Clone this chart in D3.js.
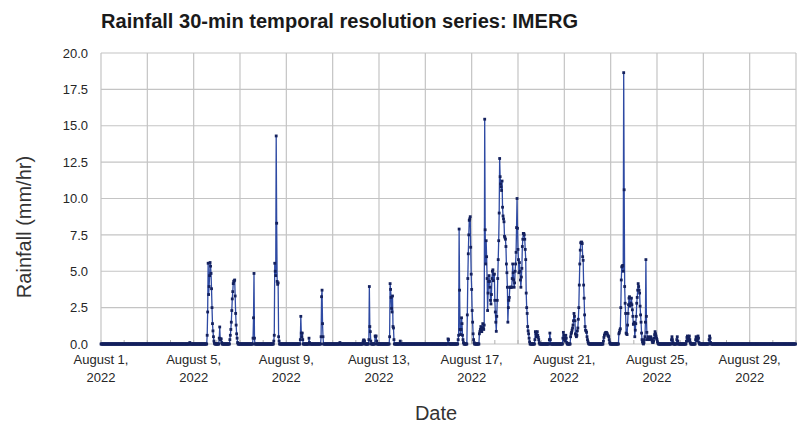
<!DOCTYPE html>
<html>
<head>
<meta charset="utf-8">
<script src="https://cdn.jsdelivr.net/npm/d3@7"></script>
<style>
  html, body { margin: 0; padding: 0; background: #fff; }
  svg { display: block; }
</style>
</head>
<body>
<svg id="chart" width="808" height="423"></svg>
<script>
// ---------------- DATA ----------------
const chartTitle = "Rainfall 30-min temporal resolution series: IMERG";
const yTitle = "Rainfall (mm/hr)";
const xTitle = "Date";
const seriesStart = "2022-08-01T00:00:00Z";
const seriesEnd = "2022-08-31T00:00:00Z";
const stepMinutes = 30;
const yTicks = [0, 2.5, 5, 7.5, 10, 12.5, 15, 17.5, 20];
const xLabelDays = [1, 5, 9, 13, 17, 21, 25, 29];

// Rain bursts (mm/hr per 30-min step); every other step is 0
const eventStarts = [
  "2022-08-04T20:00:00Z", "2022-08-05T14:00:00Z", "2022-08-06T02:30:00Z", "2022-08-06T13:30:00Z",
  "2022-08-07T13:30:00Z", "2022-08-08T11:00:00Z", "2022-08-09T14:30:00Z", "2022-08-09T23:30:00Z",
  "2022-08-10T12:00:00Z", "2022-08-11T07:30:00Z", "2022-08-12T07:30:00Z", "2022-08-12T13:30:00Z",
  "2022-08-12T20:00:00Z", "2022-08-13T11:00:00Z", "2022-08-13T22:00:00Z", "2022-08-15T23:30:00Z",
  "2022-08-16T10:00:00Z", "2022-08-16T19:30:00Z", "2022-08-17T08:00:00Z", "2022-08-19T17:30:00Z",
  "2022-08-20T08:30:00Z", "2022-08-20T22:30:00Z", "2022-08-21T06:30:00Z", "2022-08-22T16:30:00Z",
  "2022-08-23T08:30:00Z", "2022-08-25T15:00:00Z", "2022-08-25T20:30:00Z", "2022-08-26T06:30:00Z",
  "2022-08-26T16:00:00Z", "2022-08-27T06:00:00Z"
];
const eventValues = [
  [0.1],
  [0.6, 2.2, 5.55, 3.4, 3.95, 4.7, 5.6, 5.35, 4.85, 3.8, 2.5, 1.4, 0.9, 0.5, 0.2, 0.05],
  [0.4, 1.17, 0.3, 0.35, 0.35, 0.1],
  [0.3, 0.6, 1.0, 1.5, 2.3, 3.1, 3.6, 4.15, 4.3, 4.35, 4.4, 3.3, 2.1, 1.3, 0.7, 0.4, 0.1],
  [0.4, 1.8, 4.85, 0.4],
  [0.2, 0.6, 5.55, 5.0, 4.7, 14.3, 8.3, 4.3, 4.1, 4.2, 0.5, 0.2],
  [0.3, 1.9, 0.75, 0.5, 0.75, 0.3],
  [0.4, 0.1],
  [0.5, 3.25, 3.7, 1.4, 0.5],
  [0.1],
  [0.15, 0.27, 0.27, 0.2],
  [0.3, 3.95, 1.2, 0.85, 0.2],
  [0.55, 0.5, 0.55, 0.2],
  [0.5, 4.15, 3.75, 3.2, 2.45, 2.2, 3.3, 1.2, 1.1, 0.3],
  [0.2],
  [0.35, 0.3],
  [0.3, 0.6, 7.9, 3.7, 1.0, 0.65, 1.0, 1.8, 1.4, 0.6, 0.3, 0.1],
  [2.0, 4.5, 6.2, 7.5, 8.5, 8.6, 8.75, 6.65, 4.8, 3.75, 2.3, 1.5, 0.7, 0.3, 0.1],
  [0.7, 0.85, 1.0, 1.2, 1.0, 0.85, 1.1, 1.4, 1.1, 1.0, 1.3, 15.45, 7.85, 5.5, 7.1, 6.0, 4.5, 2.3, 3.5, 4.3,
   4.7, 4.3, 3.9, 3.0, 2.75, 3.4, 4.5, 5.0, 5.1, 4.35, 4.8, 4.8, 3.0, 2.2, 1.5, 0.87, 1.9, 3.0, 4.5, 5.8,
   7.1, 9.0, 12.75, 11.5, 11.0, 10.8, 10.55, 11.2, 9.4, 8.8, 8.6, 8.4, 7.4, 7.3, 7.2, 6.7, 5.5, 4.9, 3.9, 1.5,
   2.5, 3.0, 3.2, 3.9, 3.9, 3.9, 3.9, 3.9, 4.5, 5.5, 4.9, 4.4, 3.9, 4.2, 5.0, 5.5, 6.3, 8.0, 10.0, 7.95,
   6.5, 5.8, 4.9, 5.6, 5.0, 4.4, 3.9, 4.6, 5.2, 6.7, 7.2, 7.6, 7.6, 7.5, 7.2, 6.5, 5.8, 3.5, 2.5, 2.1,
   1.2, 0.9, 0.7, 0.4, 0.15],
  [0.3, 0.85, 0.7, 0.5, 0.6, 0.85, 0.6, 0.45, 0.3, 0.1],
  [0.3, 0.75, 0.3],
  [0.4, 0.8, 0.6, 0.3, 0.2, 0.4, 0.6, 0.4, 0.1],
  [0.5, 0.7, 0.8, 0.95, 1.1, 1.3, 1.6, 2.1, 1.9, 1.6, 0.7, 0.6, 0.5, 0.6, 0.9, 1.1, 1.7, 2.5, 4.05, 5.5,
   6.45, 6.95, 7.0, 7.0, 6.9, 6.0, 5.75, 4.05, 3.15, 2.0, 1.2, 0.95, 0.9, 0.8, 0.5, 0.3, 0.15, 0.05],
  [0.2, 0.45, 0.6, 0.7, 0.75, 0.8, 0.8, 0.75, 0.7, 0.6, 0.55, 0.5, 0.3, 0.1],
  [0.7, 0.8, 0.95, 1.05, 2.5, 4.4, 5.3, 5.35, 5.4, 5.0, 18.65, 10.6, 3.95, 2.8, 2.1, 0.75, 0.7, 0.65, 1.3, 2.1,
   2.7, 3.15, 3.25, 2.6, 2.7, 2.8, 3.15, 2.7, 2.35, 1.9, 1.35, 1.4, 1.5, 0.5, 0.95, 1.4, 1.9, 2.8, 3.2, 3.7,
   4.15, 3.95, 3.7, 3.5, 2.6, 2.0, 1.5, 0.75, 0.3, 0.15, 0.05, 0, 0.1, 0.3, 0.5, 1.5, 5.8, 1.9, 0.8, 0.3,
   0.4, 0.5, 0.4, 0.3, 0.35, 0.45, 0.5, 0.4, 0.3, 0.2, 0.1, 0.1, 0.2, 0.4, 0.65, 0.85, 0.7, 0.55, 0.4, 0.3,
   0.15, 0.05],
  [0.3, 0.5, 0.3, 0.1],
  [0.3, 0.5, 0.2],
  [0.2, 0.45, 0.55, 0.3, 0.2, 0.4, 0.55, 0.3, 0.1],
  [0.3, 0.5, 0.3, 0.2, 0.35, 0.55, 0.4, 0.1],
  [0.3, 0.55, 0.4, 0.1]
];

// ---------------- BUILD SERIES ----------------
const stepMs = stepMinutes * 60 * 1000;
const t0 = Date.parse(seriesStart);
const t1 = Date.parse(seriesEnd);
const nSteps = Math.round((t1 - t0) / stepMs);
const series = d3.range(nSteps).map(i => ({ date: new Date(t0 + i * stepMs), value: 0 }));
eventStarts.forEach((s, e) => {
  const i0 = Math.round((Date.parse(s) - t0) / stepMs);
  eventValues[e].forEach((v, k) => { if (series[i0 + k]) series[i0 + k].value = v; });
});

// ---------------- CHART ----------------
const svg = d3.select("#chart");
const pLeft = 101, pRight = 796, pTop = 53, pBottom = 344;

const x = d3.scaleUtc().domain([new Date(t0), new Date(t1)]).range([pLeft, pRight]);
const y = d3.scaleLinear().domain([0, 20]).range([pBottom, pTop]);

const gridColor = "#c4c4c4";
const textColor = "#262626";

// horizontal gridlines
svg.append("g").selectAll("line").data(yTicks).join("line")
  .attr("x1", pLeft).attr("x2", pRight)
  .attr("y1", d => y(d)).attr("y2", d => y(d))
  .attr("stroke", gridColor).attr("stroke-width", 1.2);

// vertical gridlines every 2 days
const gridDates = d3.utcDay.every(2).range(new Date(t0), new Date(t1 + 1));
svg.append("g").selectAll("line").data(gridDates).join("line")
  .attr("x1", d => x(d)).attr("x2", d => x(d))
  .attr("y1", pTop).attr("y2", pBottom)
  .attr("stroke", gridColor).attr("stroke-width", 1.2);

// minor day ticks on the axis
const dayDates = d3.utcDay.range(new Date(t0), new Date(t1 + 1));
svg.append("g").selectAll("line").data(dayDates).join("line")
  .attr("x1", d => x(d)).attr("x2", d => x(d))
  .attr("y1", pBottom - 4).attr("y2", pBottom)
  .attr("stroke", "#b0b0b0").attr("stroke-width", 1);

// y tick labels
svg.append("g").selectAll("text").data(yTicks).join("text")
  .attr("x", 88).attr("y", d => y(d)).attr("dy", "0.36em")
  .attr("text-anchor", "end")
  .attr("font-family", "Liberation Sans, Arial, sans-serif")
  .attr("font-size", 13).attr("fill", textColor)
  .text(d => d3.format(".1f")(d));

// x tick labels
const monthName = d3.utcFormat("%B");
const xLabelDates = xLabelDays.map(d => new Date(Date.UTC(2022, 7, d)));
const xl = svg.append("g").selectAll("text").data(xLabelDates).join("text")
  .attr("text-anchor", "middle")
  .attr("font-family", "Liberation Sans, Arial, sans-serif")
  .attr("font-size", 13).attr("fill", textColor);
xl.append("tspan").attr("x", d => x(d)).attr("y", 364).text(d => `${monthName(d)} ${d.getUTCDate()},`);
xl.append("tspan").attr("x", d => x(d)).attr("y", 382).text(d => `${d.getUTCFullYear()}`);

// line
const line = d3.line().x(d => x(d.date)).y(d => y(d.value));
svg.append("path").datum(series)
  .attr("d", line).attr("fill", "none")
  .attr("stroke", "#2e4aa3").attr("stroke-width", 1.3).attr("stroke-linejoin", "round");

// markers
svg.append("g").selectAll("rect").data(series).join("rect")
  .attr("x", d => x(d.date) - 1.4).attr("y", d => y(d.value) - 1.4)
  .attr("width", 2.8).attr("height", 2.8)
  .attr("fill", "#14215e");

// titles
svg.append("text")
  .attr("x", 101).attr("y", 28)
  .attr("font-family", "Liberation Sans Narrow, Liberation Sans, Arial, sans-serif")
  .attr("font-weight", "bold").attr("font-size", 20).attr("fill", "#1a1a1a")
  .attr("textLength", 477).attr("lengthAdjust", "spacingAndGlyphs")
  .text(chartTitle);

svg.append("text")
  .attr("transform", "translate(31,227) rotate(-90)")
  .attr("text-anchor", "middle")
  .attr("font-family", "Liberation Sans, Arial, sans-serif")
  .attr("font-size", 20).attr("fill", "#333")
  .text(yTitle);

svg.append("text")
  .attr("x", 436).attr("y", 420)
  .attr("text-anchor", "middle")
  .attr("font-family", "Liberation Sans, Arial, sans-serif")
  .attr("font-size", 20).attr("fill", "#333")
  .text(xTitle);
</script>
</body>
</html>
